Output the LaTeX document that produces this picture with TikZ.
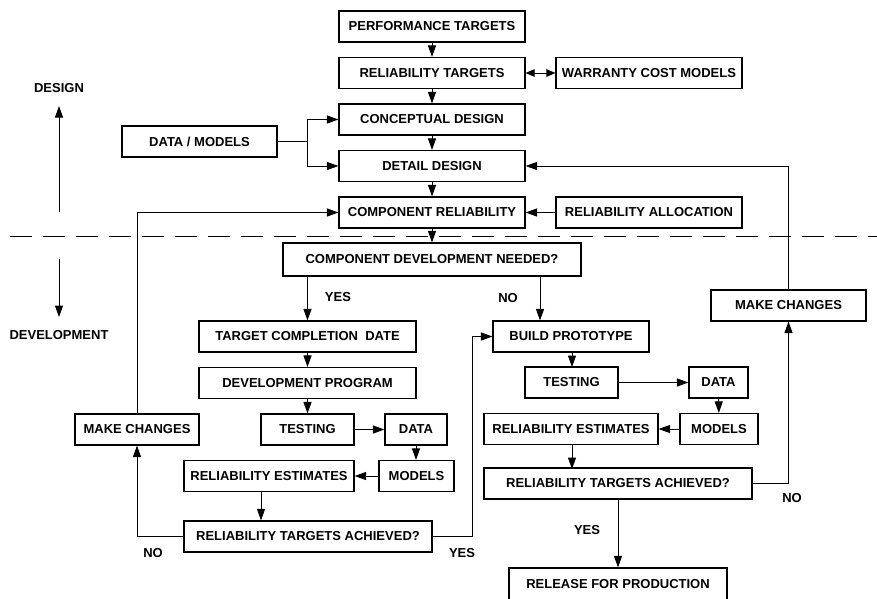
\documentclass[tikz,border=0pt]{standalone}
\usepackage{fontspec}
\setmainfont{Liberation Sans}
\usetikzlibrary{arrows.meta}
\begin{document}
\begin{tikzpicture}[x=1pt,y=-1pt,
  font=\fontsize{13}{15}\selectfont\bfseries,
  box/.style={draw, line width=1.1pt, inner sep=0pt, minimum height=31pt},
  lbl/.style={inner sep=0pt},
  conn/.style={line width=1pt, -{Triangle[length=11.5pt,width=8pt]}},
  plain/.style={line width=1pt},
  both/.style={line width=1pt, {Triangle[length=9pt,width=7.5pt]}-{Triangle[length=9pt,width=7.5pt]}}]
\useasboundingbox (0,0) rectangle (877,598);
\clip (0,0) rectangle (877,598);

% design stage
\node[box, minimum width=186pt] (pt)  at (432,26.5)  {PERFORMANCE TARGETS};
\node[box, minimum width=186pt] (rt)  at (432,73)    {RELIABILITY TARGETS};
\node[box, minimum width=186pt] (cd)  at (432,119.5) {CONCEPTUAL DESIGN};
\node[box, minimum width=186pt] (dd)  at (432,166)   {DETAIL DESIGN};
\node[box, minimum width=186pt] (cr)  at (432,212.5) {COMPONENT RELIABILITY};
\node[box, minimum width=186pt] (wc)  at (649,73)    {WARRANTY COST MODELS};
\node[box, minimum width=186pt] (ra)  at (649,212.5) {RELIABILITY ALLOCATION};
\node[box, minimum width=155pt] (dm)  at (199.5,141.5) {DATA / MODELS};

% development stage
\node[box, minimum width=298pt, minimum height=33pt] (cdn) at (432,259.5) {COMPONENT DEVELOPMENT NEEDED?};
\node[box, minimum width=217pt] (tcd) at (307.5,336.5) {TARGET COMPLETION\ \ DATE};
\node[box, minimum width=217pt] (dp)  at (307.5,383)   {DEVELOPMENT PROGRAM};
\node[box, minimum width=93pt]  (tl)  at (307.5,429.5) {TESTING};
\node[box, minimum width=62pt]  (dl)  at (416,429.5)   {DATA};
\node[box, minimum width=75pt]  (ml)  at (416.5,476)   {MODELS};
\node[box, minimum width=170pt] (rel) at (269,476)     {RELIABILITY ESTIMATES};
\node[box, minimum width=248pt] (ral) at (308,536.5)   {RELIABILITY TARGETS ACHIEVED?};
\node[box, minimum width=124pt] (mcl) at (137,429.5)   {MAKE CHANGES};

\node[box, minimum width=156pt] (bp)  at (571,336.5)   {BUILD PROTOTYPE};
\node[box, minimum width=93pt]  (tr)  at (571.5,382.5) {TESTING};
\node[box, minimum width=59pt]  (dr)  at (718.5,382.5) {DATA};
\node[box, minimum width=78pt]  (mr)  at (719,429)     {MODELS};
\node[box, minimum width=174pt] (rer) at (571,429)     {RELIABILITY ESTIMATES};
\node[box, minimum width=268pt] (rar) at (618,483.5)   {RELIABILITY TARGETS ACHIEVED?};
\node[box, minimum width=155pt] (mcr) at (788.5,305.5) {MAKE CHANGES};
\node[box, minimum width=218pt, minimum height=32pt] (rp) at (618,584) {RELEASE FOR PRODUCTION};

% stage markers
\node[lbl] (design) at (59,88)  {DESIGN};
\node[lbl] (devel)  at (59,335) {DEVELOPMENT};
\coordinate (dsA) at (59,212);
\coordinate (dsB) at (59,106);
\coordinate (dvA) at (59,259);
\coordinate (dvB) at (59,317);
\draw[conn] (dsA) -- (dsB);
\draw[conn] (dvA) -- (dvB);

\coordinate (sepL) at (10,236);
\coordinate (sepR) at (877,236);
\draw[line width=1pt, dash pattern=on 22pt off 11pt] (sepL) -- (sepR);

% design flow
\draw[conn] (pt) -- (rt);
\draw[conn] (rt) -- (cd);
\draw[conn] (cd) -- (dd);
\draw[conn] (dd) -- (cr);
\draw[conn] (cr) -- (cdn);
\draw[both] (rt) -- (wc);
\draw[conn] (ra) -- (cr);
\coordinate (dmj) at (307,141.5);
\draw[plain] (dm.east) -- (dmj);
\draw[conn] (dmj) |- (cd.west);
\draw[conn] (dmj) |- (dd.west);

% component development branch
\draw[conn] (tcd.north |- cdn.south) -- (tcd.north);
\draw[conn] (tcd) -- (dp);
\draw[conn] (dp) -- (tl);
\draw[conn] (tl) -- (dl);
\draw[conn] (dl) -- (dl |- ml.north);
\draw[conn] (ml) -- (rel);
\draw[conn] ([xshift=-8pt]rel.south) -- ([xshift=-8pt]rel.south |- ral.north);
\draw[conn] (ral.west) -| (mcl.south);
\draw[conn] (mcl.north) |- (cr.west);
\coordinate (yesj) at (472,536.5);
\draw[plain] (ral.east) -- (yesj);
\draw[conn] (yesj) |- (bp.west);

% prototype branch
\draw[conn] ([xshift=-31pt]bp.north |- cdn.south) -- ([xshift=-31pt]bp.north);
\draw[conn] (tr.north -| 572,0) ++(0,-14.5) -- (572,367);
\draw[conn] (tr) -- (dr);
\draw[conn] (dr) -- (mr);
\draw[conn] (mr) -- (rer);
\draw[conn] (rer.south -| rar.north) ++(-46,0) -- ++(0,24);
\draw[conn] (rar.east) -| (mcr.south);
\draw[conn] (mcr.north) |- (dd.east);
\draw[conn] (rar) -- (rp);

% branch labels
\node[lbl] (yes1) at (338,297) {YES};
\node[lbl] (no1)  at (508,298) {NO};
\node[lbl] (no2)  at (153,553) {NO};
\node[lbl] (yes2) at (462,553) {YES};
\node[lbl] (yes3) at (587,530) {YES};
\node[lbl] (no3)  at (792,498) {NO};
\end{tikzpicture}
\end{document}
